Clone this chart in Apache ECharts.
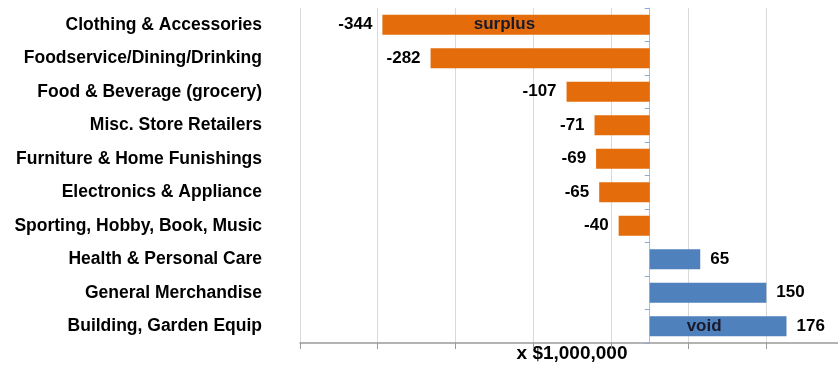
<!DOCTYPE html>
<html>
<head>
<meta charset="utf-8">
<script src="https://cdn.jsdelivr.net/npm/echarts@6/dist/echarts.min.js"></script>
<style>
  html, body { margin: 0; padding: 0; background: #fff; }
  #chart { width: 838px; height: 367px; }
</style>
</head>
<body>
<div id="chart"></div>
<script>
var categories = [
  'Clothing & Accessories',
  'Foodservice/Dining/Drinking',
  'Food & Beverage (grocery)',
  'Misc. Store Retailers',
  'Furniture & Home Funishings',
  'Electronics & Appliance',
  'Sporting, Hobby, Book, Music',
  'Health & Personal Care',
  'General Merchandise',
  'Building, Garden Equip'
];
var values = [-344, -282, -107, -71, -69, -65, -40, 65, 150, 176];
var axisName = 'x $1,000,000';
var annotations = [
  { text: 'surplus', value: -187, category: 'Clothing & Accessories' },
  { text: 'void', value: 70, category: 'Building, Garden Equip' }
];

var FONT = '"Liberation Sans", Arial, sans-serif';
var chart = echarts.init(document.getElementById('chart'));

var data = values.map(function (v) {
  return {
    value: v,
    itemStyle: { color: v < 0 ? '#E46C0A' : '#4F81BD' },
    label: { position: v < 0 ? 'left' : 'right' }
  };
});

chart.setOption({
  animation: false,
  backgroundColor: '#ffffff',
  grid: { left: 300, right: -6, top: 8, bottom: 24, containLabel: false, outerBoundsMode: 'none' },
  xAxis: {
    type: 'value',
    min: -450,
    max: 250,
    interval: 100,
    name: axisName,
    nameLocation: 'middle',
    nameGap: 1,
    nameTextStyle: { fontFamily: FONT, fontWeight: 'bold', fontSize: 19, color: '#000', verticalAlign: 'top' },
    axisLabel: { show: false },
    axisLine: { show: true, lineStyle: { color: '#9a9a9a', width: 1.5 } },
    axisTick: { show: true, length: 6, lineStyle: { color: '#9a9a9a' } },
    splitLine: { show: true, lineStyle: { color: '#d9d9d9', width: 1 } }
  },
  yAxis: [{
    type: 'category',
    data: categories,
    inverse: true,
    axisLine: { show: true, onZero: true, lineStyle: { color: '#a9bdd8', width: 1 } },
    axisTick: { show: true, length: 5, alignWithLabel: false, lineStyle: { color: '#8eaad0' } },
    axisLabel: { show: false },
    splitLine: { show: false }
  }, {
    type: 'category',
    data: categories,
    inverse: true,
    position: 'left',
    axisLine: { show: false, onZero: false },
    axisTick: { show: false },
    axisLabel: {
      show: true,
      margin: 38,
      fontFamily: FONT,
      fontWeight: 'bold',
      fontSize: 17.5,
      color: '#000'
    },
    splitLine: { show: false }
  }],
  series: [{
    type: 'bar',
    data: data,
    barWidth: 20,
    yAxisIndex: 0,
    label: {
      show: true,
      distance: 10,
      fontFamily: FONT,
      fontWeight: 'bold',
      fontSize: 17,
      color: '#000'
    },
    markPoint: {
      symbol: 'circle',
      symbolSize: 0,
      silent: true,
      label: {
        show: true,
        position: 'inside',
        fontFamily: FONT,
        fontWeight: 'bold',
        fontSize: 17,
        color: '#1a1a2a',
        formatter: function (p) { return p.name; }
      },
      data: annotations.map(function (a) {
        return { name: a.text, coord: [a.value, a.category] };
      })
    }
  }]
});
</script>
</body>
</html>
